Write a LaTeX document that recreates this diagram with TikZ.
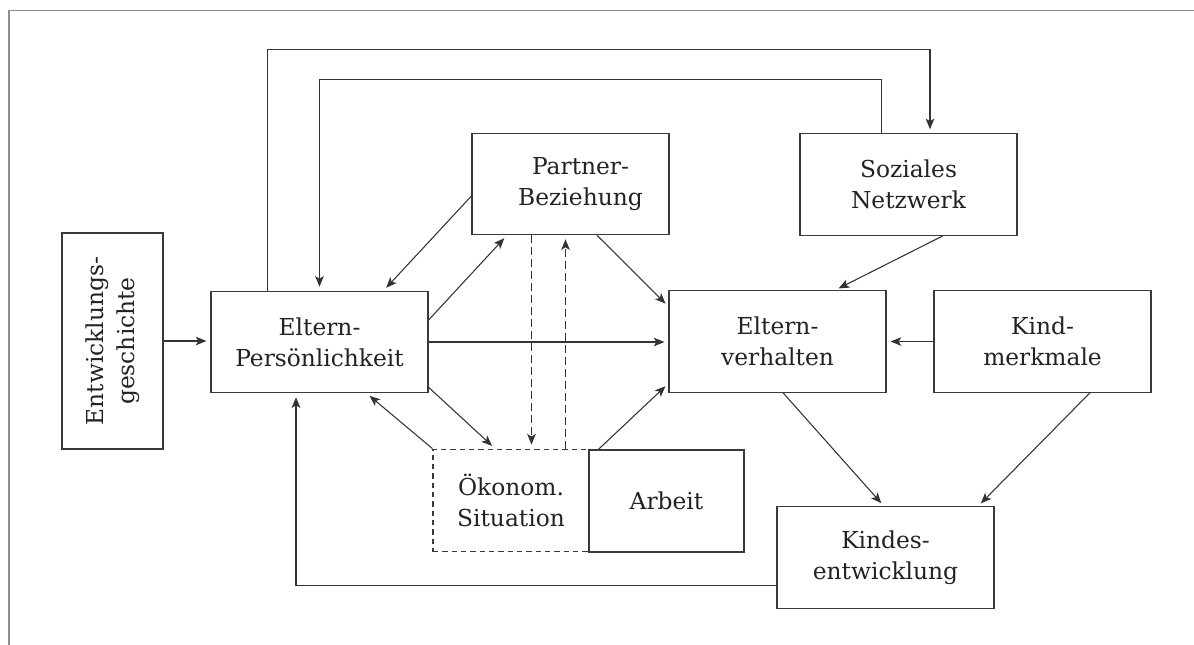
\documentclass[tikz,border=0pt]{standalone}
\usepackage{fontspec}
\setmainfont{DejaVu Serif}
\usetikzlibrary{arrows.meta,calc,positioning}
\definecolor{linegray}{HTML}{333333}
\definecolor{boxgray}{HTML}{3A3A3A}
\definecolor{textgray}{HTML}{222222}
\definecolor{framegray}{HTML}{8C8C8C}
\newcommand{\diafont}{\fontsize{17.5}{23.25}\selectfont}

\begin{document}
\begin{tikzpicture}[x=0.75pt,y=0.75pt,yscale=-1,xscale=1,
  box/.style={draw=boxgray,line width=0.9pt,align=center,font=\diafont,text=textgray,inner sep=2pt,minimum width=162.75pt,minimum height=76pt},
  conn/.style={draw=linegray,line width=0.8pt,-{Stealth[length=8pt,width=6.5pt,inset=2pt]},shorten >=3pt},
  dashconn/.style={conn,dash pattern=on 6pt off 3pt}]
\useasboundingbox (0,0) rectangle (1194,645);

%frame
\draw [framegray,line width=1.1pt] (9,645) |- (1194,10.5);

%boxes
\node [box,minimum width=75.75pt,minimum height=162pt] (entw) at (112.5,341) {\rotatebox{90}{\begin{tabular}{@{}c@{}}Entwicklungs-\\geschichte\end{tabular}}};
\node [box] (elp) at (319.5,342) {Eltern-\\Persönlichkeit};
\node [box,minimum width=147.75pt] (partner) at (570.5,184) {\hspace*{15pt}Partner-\\\hspace*{15pt}Beziehung};
\node [box] (sozial) at (908.5,184.5) {Soziales\\Netzwerk};
\node [box] (elv) at (777.5,341.5) {Eltern-\\verhalten};
\node [box] (kind) at (1042.5,341.5) {Kind-\\merkmale};
\node [box] (kindes) at (885.5,557.5) {Kindes-\\entwicklung};
\node [box,dash pattern=on 4pt off 3pt,minimum width=117pt,minimum height=77pt] (oekon) at (511,500.5) {Ökonom.\\Situation};
\node [box,minimum width=116.25pt,minimum height=76.5pt] (arbeit) at (666.5,501) {Arbeit};

%helper coordinates
\coordinate (pdown) at ($(partner.south)+(-39,0)$);
\coordinate (pup) at ($(partner.south)+(-5,0)$);

%connectors
\draw [conn] (entw.east) -- (entw.east -| elp.west);
\draw [conn] ($(elp.north)+(-52,0)$) |- ($(sozial.north)+(21.5,-84)$) -- ($(sozial.north)+(21.5,0)$);
\draw [conn] ($(sozial.north)+(-27,0)$) -- ++(0,-54) -| (elp.north);
\draw [conn] ($(partner.west)+(0,12)$) -- ($(elp.north)+(64,0)$);
\draw [conn] ($(elp.east)+(0,-22)$) -- ($(partner.south)+(-63.5,0)$);
\draw [conn] (elp.east) -- (elp.east -| elv.west);
\draw [conn] ($(elp.south east)+(0,-6)$) -- ($(oekon.north)+(-16,0)$);
\draw [conn] (oekon.north west) -- ($(elp.south)+(47,0)$);
\draw [conn] ($(kindes.west)+(0,28)$) -| ($(elp.south)+(-23.5,0)$);
\draw [dashconn] (pdown) -- (pdown |- oekon.north);
\draw [dashconn] (pup |- oekon.north) -- (pup);
\draw [conn] ($(partner.south)+(26.5,0)$) -- ($(elv.west)+(0,-35)$);
\draw [conn] ($(arbeit.north west)+(10,0)$) -- ($(elv.west)+(0,42)$);
\draw [conn] ($(sozial.south)+(34.5,0)$) -- ($(elv.north)+(57.5,0)$);
\draw [conn] (kind.west) -- (elv.east);
\draw [conn] ($(elv.south)+(5.5,0)$) -- ($(kindes.north)+(-1.5,0)$);
\draw [conn] ($(kind.south)+(47.5,0)$) -- ($(kindes.north)+(92.5,0)$);

\end{tikzpicture}
\end{document}
